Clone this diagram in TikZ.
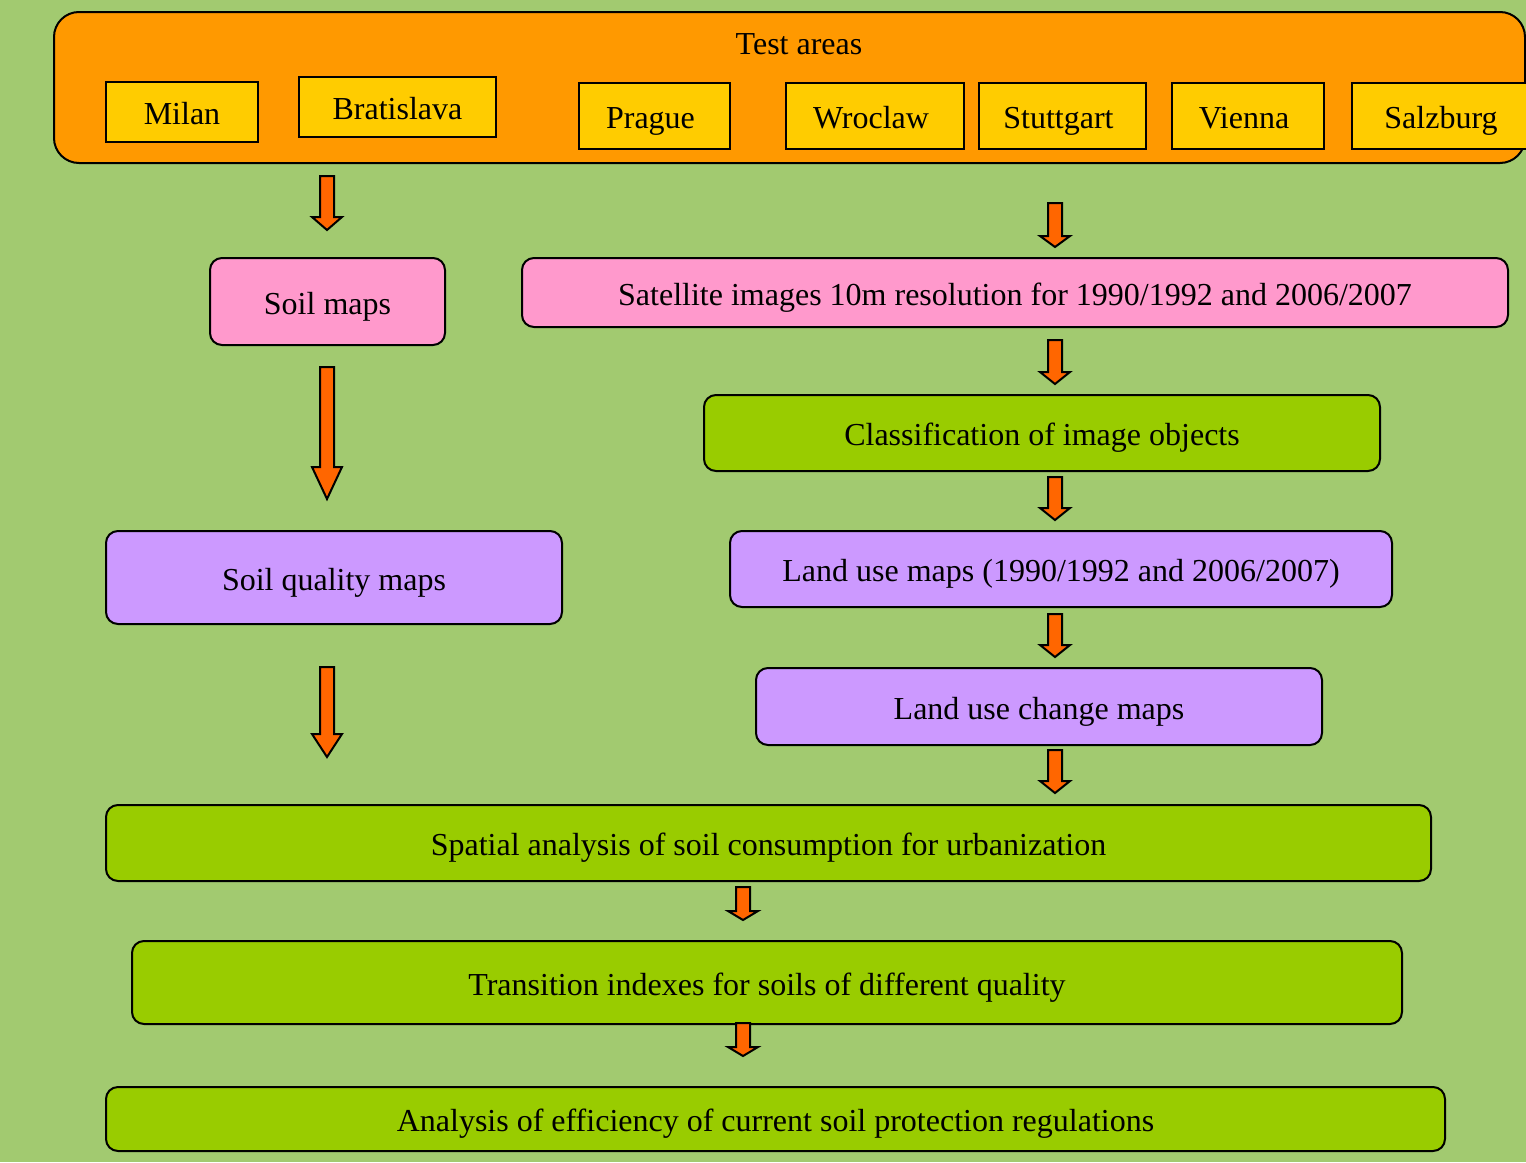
\documentclass[tikz,border=0pt]{standalone}
\usepackage{fontspec}
\setmainfont{Liberation Serif}
\definecolor{bg}{RGB}{162,202,112}
\definecolor{orangebox}{RGB}{255,153,0}
\definecolor{yellowbox}{RGB}{255,204,0}
\definecolor{pinkbox}{RGB}{255,153,204}
\definecolor{purplebox}{RGB}{204,153,255}
\definecolor{greenbox}{RGB}{153,204,0}
\definecolor{arrowfill}{RGB}{255,102,0}
\newcommand\blockarrow[4]{%
  \draw[barrow] ({#1-7},#2) -- ({#1+7},#2) -- ({#1+7},{#3-#4}) -- ({#1+15},{#3-#4})
    -- (#1,#3) -- ({#1-15},{#3-#4}) -- ({#1-7},{#3-#4}) -- cycle;}
\newcommand\cityshiftleft{\hspace*{-4pt}}
\tikzset{
  x=0.5pt, y=-0.5pt,
  txt/.style={font=\fontsize{16}{19}\selectfont, inner sep=0pt, outer sep=0pt},
  boxtxt/.style={txt, text height=12.5pt, text depth=0pt},
  city/.style={boxtxt, draw=black, line width=1pt, fill=yellowbox},
  rbox/.style={boxtxt, draw=black, line width=1pt, rounded corners=6pt},
  pinkstyle/.style={rbox, fill=pinkbox},
  purplestyle/.style={rbox, fill=purplebox},
  greenstyle/.style={rbox, fill=greenbox},
  barrow/.style={draw=black, line width=1pt, fill=arrowfill, line join=miter},
}
\begin{document}
\begin{tikzpicture}
\useasboundingbox (0,0) rectangle (1526,1162);
\fill[bg] (0,0) rectangle (1526,1162);
% container
\draw[line width=1pt, fill=orangebox, rounded corners=12.5pt] (54,12) rectangle (1525,163);
\node[txt] (title) at (799,44) {Test areas};
% cities
\node[city, minimum width=76pt, minimum height=30pt] (milan) at (182,112) {Milan};
\node[city, minimum width=98.5pt, minimum height=30pt] (bratislava) at (397.5,107) {Bratislava};
\node[city, minimum width=75.5pt, minimum height=33pt] (prague) at (654.5,116) {\cityshiftleft Prague};
\node[city, minimum width=89pt, minimum height=33pt] (wroclaw) at (875,116) {\cityshiftleft Wroclaw};
\node[city, minimum width=83.5pt, minimum height=33pt] (stuttgart) at (1062.5,116) {\cityshiftleft Stuttgart};
\node[city, minimum width=76pt, minimum height=33pt] (vienna) at (1248,116) {\cityshiftleft Vienna};
\node[city, minimum width=89pt, minimum height=33pt] (salzburg) at (1441,116) {Salzburg};
% boxes
\node[pinkstyle, minimum width=117.5pt, minimum height=43.5pt] (soil) at (327.5,301.5) {Soil maps};
\node[pinkstyle, minimum width=493pt, minimum height=34.5pt] (sat) at (1015,292.5) {Satellite images 10m resolution for 1990/1992 and 2006/2007};
\node[greenstyle, minimum width=338pt, minimum height=38pt] (class) at (1042,433) {Classification of image objects};
\node[purplestyle, minimum width=228pt, minimum height=46.5pt] (soilq) at (334,577.5) {Soil quality maps};
\node[purplestyle, minimum width=331pt, minimum height=38pt] (landuse) at (1061,569) {Land use maps (1990/1992 and 2006/2007)};
\node[purplestyle, minimum width=283pt, minimum height=38.5pt] (change) at (1039,706.5) {Land use change maps};
\node[greenstyle, minimum width=662.5pt, minimum height=38pt] (spatial) at (768.5,843) {Spatial analysis of soil consumption for urbanization};
\node[greenstyle, minimum width=635pt, minimum height=41.5pt] (trans) at (767,982.5) {Transition indexes for soils of different quality};
\node[greenstyle, minimum width=669.5pt, minimum height=32pt] (eff) at (775.5,1119) {Analysis of efficiency of current soil protection regulations};
% arrows
\blockarrow{327}{176}{230}{13}
\blockarrow{1055}{203}{247}{11}
\blockarrow{327}{367}{499}{32}
\blockarrow{1055}{340}{384}{12}
\blockarrow{1055}{477}{520}{12}
\blockarrow{327}{667}{757}{23}
\blockarrow{1055}{614}{657}{12}
\blockarrow{1055}{750}{793}{12}
\blockarrow{743}{887}{920}{9}
\blockarrow{743}{1023}{1056}{9}
\end{tikzpicture}
\end{document}
